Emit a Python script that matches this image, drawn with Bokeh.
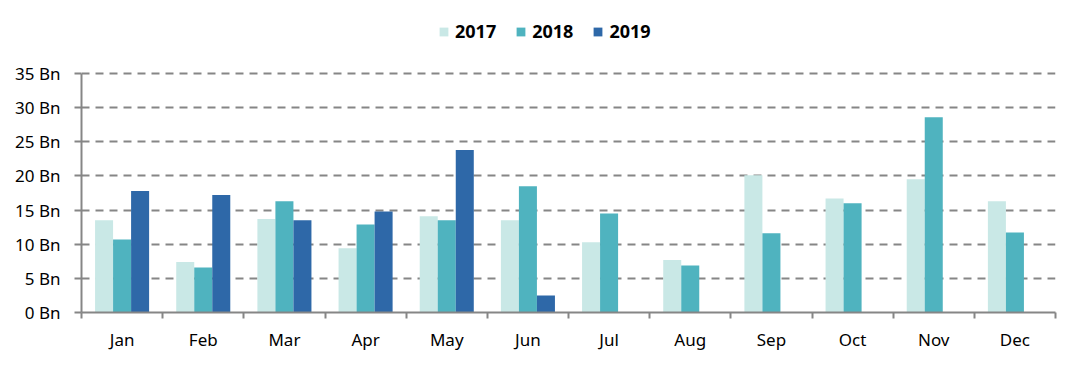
import numpy as np
from bokeh.plotting import figure
from bokeh.models import ColumnDataSource, FixedTicker, Legend, LegendItem, Range1d
from bokeh.transform import dodge
from bokeh.embed import file_html
from bokeh.resources import INLINE

months = ["Jan", "Feb", "Mar", "Apr", "May", "Jun", "Jul", "Aug", "Sep", "Oct", "Nov", "Dec"]
v2017 = [13.5, 7.4, 13.7, 9.4, 14.1, 13.5, 10.3, 7.7, 20.1, 16.7, 19.5, 16.3]
v2018 = [10.7, 6.6, 16.3, 12.9, 13.5, 18.5, 14.5, 6.9, 11.6, 16.0, 28.6, 11.7]
v2019 = [17.8, 17.2, 13.5, 14.8, 23.8, 2.5, np.nan, np.nan, np.nan, np.nan, np.nan, np.nan]
y_ticks = [0, 5, 10, 15, 20, 25, 30, 35]
y_tick_labels = ["0 Bn", "5 Bn", "10 Bn", "15 Bn", "20 Bn", "25 Bn", "30 Bn", "35 Bn"]
series = ["2017", "2018", "2019"]
colors = ["#C9E8E6", "#4FB3BF", "#2E68A8"]

src = ColumnDataSource(dict(
    x=np.arange(len(months)) + 0.5,
    y2017=v2017, y2018=v2018, y2019=v2019,
))

# layout (pixels): plot area 239 px tall for the 0..35 axis, extra headroom above for the legend
AXIS_PX = 239
FRAME_H = 312
y_top = max(y_ticks) * FRAME_H / AXIS_PX

p = figure(frame_width=974, frame_height=FRAME_H, output_backend="svg", toolbar_location=None,
           x_range=Range1d(0, 12), y_range=Range1d(0, y_top),
           min_border_left=81, min_border_right=7, min_border_top=0, min_border_bottom=37)
p.outline_line_color = None
p.background_fill_color = "white"

bw = 0.222
renderers = []
for i, (s, c) in enumerate(zip(series, colors)):
    r = p.vbar(x=dodge("x", (i - 1) * bw, range=p.x_range), top="y" + s, width=bw,
               source=src, fill_color=c, line_color=None)
    renderers.append(r)

# y axis
p.yaxis.bounds = (min(y_ticks), max(y_ticks))
p.yaxis.ticker = FixedTicker(ticks=y_ticks)
p.yaxis.major_label_overrides = {t: l for t, l in zip(y_ticks, y_tick_labels)}
p.yaxis.axis_line_color = "#868686"
p.yaxis.axis_line_width = 2
p.yaxis.major_tick_line_color = "#868686"
p.yaxis.major_tick_line_width = 2
p.yaxis.major_tick_out = 7
p.yaxis.major_tick_in = 0
p.yaxis.minor_tick_line_color = None
p.yaxis.major_label_text_font = "Noto Sans"
p.yaxis.major_label_text_font_size = "17px"
p.yaxis.major_label_text_color = "#000000"
p.yaxis.major_label_standoff = 14

# x axis: labels at category centers, ticks at boundaries
centers = [i + 0.5 for i in range(len(months))]
p.xaxis.ticker = FixedTicker(ticks=centers, minor_ticks=list(range(len(months) + 1)))
p.xaxis.major_label_overrides = {c: m for c, m in zip(centers, months)}
p.xaxis.major_tick_line_color = None
p.xaxis.minor_tick_line_color = "#868686"
p.xaxis.minor_tick_line_width = 2
p.xaxis.minor_tick_out = 6
p.xaxis.minor_tick_in = 0
p.xaxis.axis_line_color = "#868686"
p.xaxis.axis_line_width = 2
p.xaxis.major_label_text_font = "Noto Sans"
p.xaxis.major_label_text_font_size = "17px"
p.xaxis.major_label_text_color = "#000000"
p.xaxis.major_label_standoff = 9

p.xgrid.grid_line_color = None
p.ygrid.grid_line_color = "#868686"
p.ygrid.grid_line_width = 2
p.ygrid.grid_line_dash = "8 6"

legend = Legend(items=[LegendItem(label=s, renderers=[r]) for s, r in zip(series, renderers)],
                orientation="horizontal", location=(357, 269),
                glyph_width=11, glyph_height=11, label_standoff=6, spacing=19,
                padding=0, margin=0, label_height=17,
                label_text_font="Noto Sans", label_text_font_style="bold",
                label_text_font_size="18px", label_text_color="#000000",
                border_line_color=None, background_fill_alpha=0)
p.add_layout(legend, "center")

open("out.html", "w").write(file_html(p, INLINE))
